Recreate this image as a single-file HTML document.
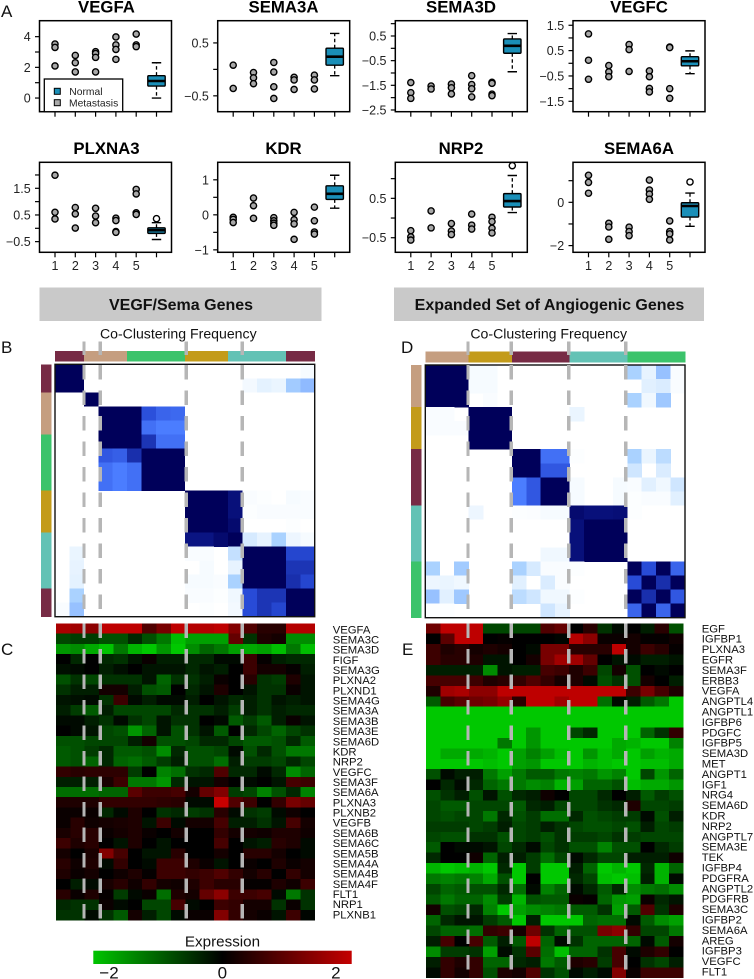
<!DOCTYPE html>
<html lang="en">
<head>
<meta charset="utf-8">
<title>VEGF/Sema gene expression and co-clustering figure</title>
<style>
html,body{margin:0;padding:0;background:#fff;}
svg{display:block;font-family:"Liberation Sans",Arial,sans-serif;}
.ptitle{font-size:16.8px;font-weight:bold;text-anchor:middle;fill:#000;}
.letter{font-size:17px;fill:#111;}
.hdr{font-size:16px;font-weight:bold;text-anchor:middle;fill:#111;}
.cc{font-size:14.1px;text-anchor:middle;fill:#111;}
.tick{font-size:12.5px;fill:#222;}
.gene{font-size:11.3px;fill:#111;}
</style>
</head>
<body>
<svg id="fig" width="754" height="979" viewBox="0 0 754 979" xmlns="http://www.w3.org/2000/svg">
  <rect x="0" y="0" width="754" height="979" fill="#fff"/>
  <text class="letter" x="1" y="17">A</text>
  <text class="letter" x="1" y="353">B</text>
  <text class="letter" x="1" y="655">C</text>
  <text class="letter" x="401" y="353">D</text>
  <text class="letter" x="402" y="655">E</text>

  <text class="ptitle" x="106.5" y="12.5">VEGFA</text>
  <text class="ptitle" x="283.5" y="12.5">SEMA3A</text>
  <text class="ptitle" x="461" y="12.5">SEMA3D</text>
  <text class="ptitle" x="639" y="12.5">VEGFC</text>
  <text class="ptitle" x="106.5" y="154">PLXNA3</text>
  <text class="ptitle" x="283.5" y="154">KDR</text>
  <text class="ptitle" x="461" y="154">NRP2</text>
  <text class="ptitle" x="639" y="154">SEMA6A</text>

  <g id="boxplots"></g>

  <g>
    <rect x="44.3" y="79" width="78.4" height="32.7" fill="#fff" stroke="#000" stroke-width="1.3"/>
    <rect x="54.3" y="88.3" width="6" height="6" fill="#1a8fb8" stroke="#000" stroke-width="1"/>
    <text x="69.3" y="94.8" font-size="10.3" fill="#222">Normal</text>
    <rect x="54.3" y="99.7" width="6" height="6" fill="#aaa" stroke="#000" stroke-width="1"/>
    <text x="69" y="106.3" font-size="10.3" fill="#222">Metastasis</text>
  </g>

  <rect x="39.5" y="287.5" width="282" height="33.5" fill="#c9c9c9"/>
  <text class="hdr" x="181" y="310">VEGF/Sema Genes</text>
  <rect x="394" y="287.5" width="310" height="33.5" fill="#c9c9c9"/>
  <text class="hdr" x="549.5" y="310">Expanded Set of Angiogenic Genes</text>

  <text class="cc" x="178.3" y="338.5">Co-Clustering Frequency</text>
  <text class="cc" x="548.7" y="338.5">Co-Clustering Frequency</text>

  <g id="matrixB"></g>
  <g id="matrixD"></g>
  <g id="heatC"></g>
  <g id="heatE"></g>
  <g id="dashes"></g>

  <defs>
    <linearGradient id="exprGrad" x1="0" x2="1" y1="0" y2="0">
      <stop offset="0" stop-color="#00c400"/>
      <stop offset="0.5" stop-color="#000"/>
      <stop offset="1" stop-color="#c40000"/>
    </linearGradient>
  </defs>
  <text x="222.5" y="946.7" font-size="15.2" text-anchor="middle" fill="#111">Expression</text>
  <rect x="93.3" y="950.7" width="258.4" height="13.3" fill="url(#exprGrad)"/>
  <g id="cbarTicks"></g>
</svg>

<script>
// ---------- Box plot data ----------
const panelNames = ["VEGFA","SEMA3A","SEMA3D","VEGFC","PLXNA3","KDR","NRP2","SEMA6A"];
const categoryLabels = ["1","2","3","4","5",""];
const yDomains = [[-0.89,5.04],[-0.8,0.92],[-2.57,1.12],[-1.91,1.68],[-0.9,2.475],[-1.07,1.5],[-0.87,1.415],[-2.31,1.85]];
const yTicks = [
  [0,1,2,3,4],[-0.5,0,0.5],[-2.5,-2,-1.5,-1,-0.5,0,0.5,1],[-1.5,-1,-0.5,0,0.5,1,1.5],
  [-0.5,0,0.5,1,1.5,2],[-1,-0.5,0,0.5,1],[-0.5,0,0.5,1],[-2,-1,0,1]
];
const yTickLabels = [
  [0,2,4],[-0.5,0.5],[-2.5,-1.5,-0.5,0.5],[-1.5,-0.5,0.5,1.5],
  [-0.5,0.5,1.5],[-1,0,1],[-0.5,0.5],[-2,0]
];
const vegfaPoints = [[3.52,3.3,2.09],[2.78,2.3,1.7],[3.02,2.9,2.65,1.7],[3.98,3.46,3.17,2.52],[4.17,3.46,3.35]];
const sema3aPoints = [[0.08,-0.36],[-0.06,-0.16,-0.27],[0.13,-0.05,-0.33,-0.55],[-0.15,-0.2,-0.38],[-0.11,-0.2,-0.37]];
const sema3dPoints = [[-1.39,-1.8,-2.03],[-1.53,-1.65],[-1.45,-1.6,-1.85],[-1.11,-1.47,-1.64,-1.97],[-1.38,-1.42,-1.86,-1.92]];
const vegfcPoints = [[1.16,0.12,-0.63],[-0.09,-0.34,-0.53],[0.74,0.54,-0.32],[-0.3,-0.53,-0.99,-1.13],[0.64,0.62,-1,-1.38]];
const plxna3Points = [[1.99,0.6,0.35],[0.78,0.54,0.01],[0.75,0.46,0.21],[0.38,0.29,-0.12,-0.15],[1.46,1.29,0.58,0.52]];
const kdrPoints = [[-0.07,-0.13,-0.22],[0.48,0.26,-0.1],[-0.08,-0.17,-0.24,-0.3],[0.07,-0.14,-0.26,-0.7],[0.22,-0.17,-0.49,-0.55]];
const nrp2Points = [[-0.32,-0.48,-0.56],[0.18,-0.25],[-0.14,-0.33,-0.42],[0.1,-0.18,-0.28],[0.02,-0.09,-0.26,-0.38]];
const sema6aPoints = [[1.25,0.92,0.42],[-0.97,-1.14,-1.71],[-1.15,-1.35,-1.54],[1.03,0.57,0.38,0.14],[-0.86,-1.35,-1.46,-1.74]];
const allPoints = [vegfaPoints,sema3aPoints,sema3dPoints,vegfcPoints,plxna3Points,kdrPoints,nrp2Points,sema6aPoints];
// low whisker, box bottom, median, box top, high whisker
const normalBoxes = [
  [0,0.78,1.11,1.46,2.3],[-0.12,0.08,0.24,0.4,0.68],[-0.95,-0.2,0.1,0.38,0.6],[-0.41,-0.1,0.08,0.26,0.49],
  [-0.42,-0.19,-0.07,0.02,0.21],[0.19,0.44,0.6,0.83,1.13],[0.14,0.28,0.43,0.62,1.08],[-1.11,-0.68,-0.17,-0.02,0.43]
];
const normalOutliers = [[],[],[],[],[0.36],[],[1.33],[0.94]];

// ---------- Co-clustering data ----------
const clusterB = ["maroon","maroon","tan","tan","tan","green","green","green","green","gold","gold","gold","teal","teal","teal","teal","maroon","maroon"];
const clusterD = ["tan","tan","tan","gold","gold","gold","maroon","maroon","maroon","maroon","teal","teal","teal","teal","green","green","green","green"];
const matrixB = [
[1,1,0,0,0,0,0,0,0,0,0,0,0,0,0,0,0,.03],
[1,1,0,0,0,0,0,0,0,0,0,0,0,.04,.09,.07,.27,.32],
[0,0,1,0,0,0,0,0,0,0,0,0,0,0,0,0,0,0],
[0,0,0,1,1,1,.68,.6,.58,0,0,0,0,0,0,0,0,0],
[0,0,0,1,1,1,.55,.5,.5,0,0,0,0,0,0,0,0,0],
[0,0,0,1,1,1,.78,.55,.55,0,0,0,0,0,0,0,0,0],
[0,0,0,.65,.62,.8,1,1,1,0,0,0,0,0,0,0,0,0],
[0,0,0,.55,.5,.55,1,1,1,0,0,0,0,0,0,0,0,0],
[0,0,0,.55,.5,.55,1,1,1,0,0,0,0,0,0,0,0,0],
[0,0,0,0,0,0,0,0,0,1,1,1,.92,.02,.01,0,.03,.02],
[0,0,0,0,0,0,0,0,0,1,1,1,.92,.01,.02,.02,.02,.02],
[0,0,0,0,0,0,0,0,0,1,1,1,.95,0,0,0,.01,0],
[0,0,0,0,0,0,0,0,0,.9,.9,.95,1,.13,.08,.25,.06,.03],
[0,.07,0,0,0,0,0,0,0,.02,.02,0,.18,1,1,1,.72,.72],
[0,.08,0,0,0,0,0,0,0,0,.03,0,.08,1,1,1,.78,.78],
[0,.09,0,0,0,0,0,0,0,.03,.03,.02,.25,1,1,1,.8,.72],
[0,.25,0,0,0,0,0,0,0,.02,.02,.01,.05,.7,.78,.78,1,1],
[.02,.3,0,0,0,0,0,0,0,0,.01,0,.04,.7,.78,.72,1,1]
];
const matrixD = [
[1,1,1,.03,.03,0,0,0,0,0,0,0,0,0,.25,.08,.3,.02],
[1,1,1,.03,.03,0,0,0,0,0,0,0,0,0,0,.1,.12,.02],
[1,1,1,0,.02,0,0,0,0,0,0,0,0,0,.25,.05,.28,0],
[.02,.02,0,1,1,1,0,0,0,0,.07,0,0,0,0,0,0,0],
[.02,.02,.02,1,1,1,0,0,0,0,0,0,0,0,0,0,0,0],
[0,0,0,1,1,1,0,0,0,0,0,0,0,0,0,0,0,0],
[0,0,0,0,0,0,1,1,.55,.55,.01,0,0,0,.25,.07,.2,0],
[0,0,0,0,0,0,1,1,.65,.65,0,0,0,0,.15,0,.12,0],
[0,0,0,0,0,0,.5,.65,1,1,.03,0,0,.03,.02,.1,.05,.15],
[0,0,0,0,0,0,.5,.65,1,1,.03,0,0,.03,.01,.02,.02,.1],
[0,0,0,.06,0,0,.01,.015,.03,.03,.95,.92,.92,.93,.01,0,0,0],
[0,0,0,0,0,0,0,0,0,0,.92,1,1,1,0,0,0,0],
[0,0,0,0,0,0,0,0,0,0,.92,1,1,1,0,0,0,0],
[0,0,0,0,0,0,0,0,.05,.05,.92,1,1,1,0,0,0,0],
[.25,0,.27,0,0,0,.25,.13,.02,.02,.01,0,0,0,1,.7,1,.6],
[.06,.07,.05,0,0,0,.1,0,.12,.02,0,0,0,0,.7,1,.8,1],
[.3,.1,.28,0,0,0,.2,.15,.05,.05,.01,0,0,0,1,.8,1,.65],
[.01,.01,0,0,0,0,0,0,.15,.08,0,0,0,0,.6,1,.6,1]
];

// ---------- Expression heatmap data ----------
const genesC = ["VEGFA","SEMA3C","SEMA3D","FIGF","SEMA3G","PLXNA2","PLXND1","SEMA4G","SEMA3A","SEMA3B","SEMA3E","SEMA6D","KDR","NRP2","VEGFC","SEMA3F","SEMA6A","PLXNA3","PLXNB2","VEGFB","SEMA6B","SEMA6C","SEMA5B","SEMA4A","SEMA4B","SEMA4F","FLT1","NRP1","PLXNB1"];
const exprC = [
[1.7,1.6,1.4,1.9,1.9,1.9,.8,1.2,1.9,1.8,1.8,1.9,1.3,.8,.4,.4,1.8,1.8],
[-.7,-.6,-.6,-.8,-.8,-.4,-.8,-1.2,-1.9,-1.6,-1.6,-1.6,1,-.5,.3,.2,-1.4,-1.4],
[-1.5,-1.4,-1.7,-1.95,-1.2,-1.8,-2,-1.5,-2,-1.4,-1,-1.2,-1.6,-1.7,-1.6,-1.9,-1.2,-1.9],
[0,-.4,0,-.4,-.5,-.2,.1,-.3,-.3,-.4,-.4,-.1,-.1,.6,.05,-.3,-.4,-.4],
[-.15,-.1,0,-.3,-.15,0,-.2,-.2,-.2,-.4,-.2,-.3,0,.6,.2,.2,.05,-.3],
[-.8,-.5,-.7,-.5,-.5,-.5,-.2,-1,-.5,-.5,-.3,.1,0,.4,-.5,-.6,.3,-.2],
[-.5,-.3,-.3,.2,.2,-.3,-.8,-.9,0,-.4,-.2,.3,0,-.2,-.5,-.5,.1,-.2],
[-.2,-.15,-.1,-.5,.6,-.1,-.3,-.1,-.1,-.3,0,-.2,-.4,-.3,-.5,-.2,-.3,-.2],
[-.3,-.6,-.9,-.3,-.7,-.7,-.7,-.7,-.4,-.5,-.5,-.3,-.6,-.3,-.5,-.3,-.4,-.4],
[-.1,-.1,-.3,-.5,-.1,-.5,-.7,-.2,-.5,-.5,0,-.1,-.9,-.6,-.9,-.3,.1,-.2],
[0,-.1,-.2,-.7,-.8,-1.5,-1,-.2,-.8,-.5,-.2,-.9,0,-.4,-.7,-1,-.7,-.5],
[-.8,-.8,-.7,-.7,-.7,-.3,.2,-.8,-.8,-.7,-.4,-.4,-.7,-.9,-.9,-.8,-.4,-.9],
[-.9,-.8,-.6,-.4,-.9,-.9,-.8,-1.4,-.4,-.8,-.8,-.7,-.1,-.8,-.4,-.8,-1.2,-1.2],
[-.9,-.8,-1,-.4,-1,-1.1,-.9,-.6,-.3,-.8,-.8,-1.1,-.3,-.6,-.6,-.7,-.4,-.7],
[.5,.4,.45,.45,.45,-.6,0,-1.3,-1.1,-.5,-.4,.8,-.4,-.4,-.1,-.4,-1.4,-1],
[-.3,-.3,-.3,.25,.6,-1.2,-1.2,-1.5,-.4,-.2,-.2,.2,0,-.1,0,-.2,.7,.6],
[-1.1,-1.1,-1.1,-1,-1,.9,.6,.6,.7,.2,1,1.3,-.6,-.7,-1.3,-.8,-.4,-1.3],
[.3,.3,.3,.5,.5,.5,.5,.45,.4,-.1,-.1,2,.8,.6,0,.5,1.2,1],
[.1,.1,.1,-.4,-.1,.3,0,-.5,-.4,-.6,-.5,.4,-.1,-.5,-.6,-.1,.15,0],
[.1,.4,.15,.2,.25,.3,-.2,.6,-.1,.2,.2,.7,-.3,-.3,-.5,-.2,.7,.2],
[.25,.4,.4,.1,.2,.3,.1,0,.2,0,0,.5,.2,.2,.15,.3,.3,.15],
[.6,.3,.4,0,-.2,.3,0,-.2,0,0,0,.7,0,-.2,-.3,.4,.3,-.1],
[.2,0,.25,1.3,.7,0,-.2,-.2,.4,0,0,.2,0,.4,.4,.2,0,-.1],
[.4,.15,.3,-.1,.5,0,-.1,.6,.6,.3,.1,-.2,0,.1,0,.3,.1,.2],
[.3,.1,.2,0,.15,.3,.05,.6,.6,.5,.6,.8,.5,.2,.4,0,.5,.2],
[0,-.3,-.1,.25,.4,.15,.5,.2,.15,.3,.6,.4,.4,.05,.05,.3,.15,.6],
[.4,.1,.3,.05,-.6,-.1,.1,-1.1,.3,.2,1,1.4,.6,.6,.7,-.1,-1.2,-.5],
[-.4,-.5,-.5,.1,-.1,0,-.7,-.7,.7,-.1,0,.6,.5,.2,.2,-.5,.1,-.5],
[-.5,-.5,-.1,-.5,-.9,.2,-.3,-.7,-.1,.1,.1,1.3,.5,.2,.1,-.2,.6,-.05]
];
const genesE = ["EGF","IGFBP1","PLXNA3","EGFR","SEMA3F","ERBB3","VEGFA","ANGPTL4","ANGPTL1","IGFBP6","PDGFC","IGFBP5","SEMA3D","MET","ANGPT1","IGF1","NRG4","SEMA6D","KDR","NRP2","ANGPTL7","SEMA3E","TEK","IGFBP4","PDGFRA","ANGPTL2","PDGFRB","SEMA3C","IGFBP2","SEMA6A","AREG","IGFBP3","VEGFC","FLT1"];
const exprE = [
[1.1,1.9,1.9,1.9,-.7,-.7,-.7,-.7,.8,1,0,.4,-.5,-.1,0,-.3,.4,-.8],
[0,.9,1.9,1.9,0,.05,0,0,0,-.05,1.8,1.4,.1,.1,.2,.05,.05,.15],
[.6,.3,.4,.2,.3,.2,0,-.1,1.2,1.2,.4,.4,.4,1.9,.2,.6,.4,.05],
[.6,.4,.4,.3,-.2,-.2,0,.2,1.2,1.6,1.6,1,0,-.2,-.1,-.3,-.3,-.2],
[-.3,-.3,-.3,-.3,-1.4,-.2,-.3,-.3,.7,.6,.3,.6,-.7,.2,-.8,0,-.1,0],
[.7,.7,.7,.6,.3,.4,.5,.8,.5,.2,.3,-.1,-.8,-.5,-.8,.2,0,-.3],
[.3,1.6,1.7,1.4,1.4,1.9,1.9,1.9,1.9,1.9,1.9,1.9,1.9,1.9,.6,1.2,.7,.3],
[-.9,.7,.9,1.1,1.2,1.5,.4,1.9,1.9,1.6,1.9,1.9,-1.1,-.1,-.3,-.9,-1.2,-2],
[-2,-2,-2,-2,-2,-2,-2,-2,-2,-2,-2,-2,-2,-2,-2,-2,-2,-2],
[-2,-2,-2,-2,-2,-2,-2,-2,-2,-2,-2,-2,-2,-2,-2,-2,-2,-2],
[-2,-2,-2,-2,-2,-2,-2,-1.5,-2,-2,-.7,-.4,-2,-2,-2,-1,-.5,.5],
[-2,-2,-2,-2,-2,-1.2,-2,-1.5,-2,-2,-2,-2,-2,-1.7,-1.8,-2,-2,-1.3],
[-2,-1.7,-1.7,-1.7,-1.8,-2,-1.6,-1.3,-1.6,-1.9,-2,-1.5,-1.9,-1.7,-2,-1.6,-1.8,-1.7],
[-2,-2,-2,-2,-1.9,-2,-1.6,-1.5,-2,-2,-2,-1.8,-1.9,-2,-2,-1.9,-1.9,-1.7],
[-.8,-.1,-.3,-.3,-1.2,-1.6,-1.2,-.9,-.9,-1.2,-1.3,-1.2,-1.5,-1.3,-2,-.7,-1.5,-1],
[0,-.4,-.1,-.4,-1,-1.2,-1.2,-1.4,-1.3,-1.8,-1.6,-1,-1,-.8,-1.9,-1.7,-1.7,-1.5],
[-.8,-.5,-.3,-.8,-.2,-.8,-.4,-.3,.15,0,-.7,-.7,-.4,0,-.3,-.9,-.6,-.8],
[-.7,-.9,-.9,-.7,-.7,-.7,-.9,-.4,-.3,-.7,-.7,-.7,-.5,-.4,.3,-.7,-.7,-.6],
[-.7,-.8,-.7,-.7,-1.2,-.4,-.8,-.6,-1.1,-1.1,-.4,-.8,-.7,-.6,-.6,-.1,-.8,-.3],
[-.6,-.6,-.6,-.7,-.6,-.3,-.7,-.6,-.3,-.5,-.7,-.8,-.8,-.7,-.8,-.3,-.7,-.6],
[-.7,-.8,-.8,-.5,-.5,-.8,-.7,-.6,-.8,-.5,-.6,-.6,-.7,-.5,-.6,-.7,-.7,-.7],
[-.9,0,-.1,-.1,-.2,-.7,-.4,-.1,-.7,-.5,-.8,-.8,-1.3,-.8,-.8,0,-.4,-.6],
[-.4,0,0,.15,-1,-.3,-.3,-.6,-1.1,-.7,-.1,-.4,-.7,-.7,-.3,-.3,-.3,.15],
[-1.8,-2,-1.9,-1.8,-2,-.4,-2,-.6,-2,-2,-.3,-1,-2,-1.8,-2,-.4,-1.8,-1],
[-1.2,-1.3,-1.2,-1.3,-1.7,-.8,-2,0,-2,-2,-.4,-.7,-1.9,-2,-1.9,-.3,-1.8,-.1],
[-.7,-1,-.9,-.8,-.8,-.4,-1.1,-.1,-1.3,-1,-.1,-.4,-.9,-.4,-1.4,-1.2,-1.1,-1.4],
[-.9,-1.2,-1,-1,-1.4,-.6,-1.8,-.8,-.9,-.9,.1,.05,-1,-1.5,-1.6,.1,-.4,-.2],
[.2,-.8,-.7,-.4,-1.3,-2,-1.6,-1.4,-1.3,-1.2,-.9,-.9,-.5,-1.6,-.9,.8,-.5,.3],
[-1,-.4,-.2,-.2,-.6,-.9,-2,-.3,-2,-2,-2,-1,-1.1,-1.1,-.1,-.9,-1.4,-1.6],
[-.7,-1,-1,-1.1,.5,.6,.2,1.1,-.5,-1,-.8,-.8,1.2,1.4,.5,-.7,-.7,-1.2],
[-.3,.7,0,.7,-.9,-.3,-.9,1.9,-1,-.1,-.5,-1,-1,-1,-1,-.1,-.9,.2],
[-1.4,-.6,-.6,-.5,-1.6,-.1,-.5,.9,-1.1,-1.9,-1,-1,-.5,.7,-.1,.3,.5,0],
[-.3,.5,.3,.5,-1,-1,-.4,-.3,-1.2,-.9,.3,.4,-.6,.7,0,-.5,-.7,-.3],
[-.1,.5,.2,.5,-.8,.3,.2,.8,-.5,-.8,-.1,-.3,-.1,1.3,.1,.6,.6,.6]
];
const colorbarTicks = [-2,0,2];

// ---------- Drawing ----------
const NS = "http://www.w3.org/2000/svg";
function make(tag, attrs, parent) {
  const el = document.createElementNS(NS, tag);
  for (const k in attrs) el.setAttribute(k, attrs[k]);
  parent.appendChild(el);
  return el;
}
function fmt(v) { return String(v).replace("-", "\u2212"); }

// layout of the plot frames
const frameLefts = [39.5, 217.7, 395.3, 573];
const frameWidth = 132;
const frameTops = [20.7, 162.3];
const frameHeights = [91, 90];
const NORMAL_FILL = "#1a8fb8";

function xScale(left, catIndex) { return left + 15.5 + catIndex * 20.3; }
function yScale(domain, top, height, v) {
  return top + height - (v - domain[0]) / (domain[1] - domain[0]) * height;
}

const boxRoot = document.getElementById("boxplots");
panelNames.forEach(function (name, p) {
  const col = p % 4, row = Math.floor(p / 4);
  const left = frameLefts[col], top = frameTops[row], h = frameHeights[row];
  const domain = yDomains[p];
  const y = function (v) { return yScale(domain, top, h, v); };
  const x = function (c) { return xScale(left, c); };
  const g = make("g", {}, boxRoot);
  
  

  yTicks[p].forEach(function (t) {
    const tk = make("line", {x1: left - 4.5, x2: left, y1: y(t), y2: y(t), stroke: "#000", "stroke-width": 1.2}, g);
    
    
  });
  yTickLabels[p].forEach(function (t) {
    const lab = make("text", {class: "tick", x: left - 8.8, y: y(t) + 4.5, "text-anchor": "end"}, g);
    lab.textContent = fmt(t);
    
    
  });
  categoryLabels.forEach(function (c, i) {
    const tk = make("line", {x1: x(i), x2: x(i), y1: top + h, y2: top + h + 5, stroke: "#000", "stroke-width": 1.2}, g);
    
    
    if (row === 1 && c) {
      const lab = make("text", {class: "tick", x: x(i), y: 270, "text-anchor": "middle"}, g);
      lab.textContent = c;
      
      
    }
  });

  allPoints[p].forEach(function (vals, c) {
    vals.forEach(function (v) {
      const pt = make("circle", {cx: x(c), cy: y(v), r: 3.1, fill: "#a8a8a8", stroke: "#000", "stroke-width": 1.4}, g);
      
      
    });
  });

  const b = normalBoxes[p], bx = x(5), bw = 17.4;
  const wh = make("path", {d: "M" + bx + " " + y(b[3]) + "V" + y(b[4]) + "M" + bx + " " + y(b[1]) + "V" + y(b[0]), fill: "none", stroke: "#000", "stroke-width": 1.3, "stroke-dasharray": "3.5 2.5"}, g);
  
  
  const caps = make("path", {d: "M" + (bx - 4.7) + " " + y(b[4]) + "H" + (bx + 4.7) + "M" + (bx - 4.7) + " " + y(b[0]) + "H" + (bx + 4.7), fill: "none", stroke: "#000", "stroke-width": 1.4}, g);
  
  
  const rect = make("rect", {x: bx - bw / 2, y: y(b[3]), width: bw, height: y(b[1]) - y(b[3]), fill: NORMAL_FILL, stroke: "#000", "stroke-width": 1.4, rx: 1}, g);
  
  
  const med = make("line", {x1: bx - bw / 2, x2: bx + bw / 2, y1: y(b[2]), y2: y(b[2]), stroke: "#000", "stroke-width": 2.6}, g);
  
  
  normalOutliers[p].forEach(function (v) {
    const o = make("circle", {cx: bx, cy: y(v), r: 3.1, fill: "#fff", stroke: "#000", "stroke-width": 1.4}, g);
    
    
  });

  const fr = make("rect", {x: left, y: top, width: frameWidth, height: h, fill: "none", stroke: "#000", "stroke-width": 1.5}, g);
  
  
});

const clusterColors = {maroon: "#772b45", tan: "#c59e80", green: "#3bc36b", gold: "#c39b1a", teal: "#63c2b5"};
const blueStops = [[0,255,255,255],[.1,225,240,255],[.25,170,210,255],[.5,75,125,255],[.7,40,75,215],[.9,10,20,130],[1,0,0,90]];
function blueColor(v) {
  for (let i = 1; i < blueStops.length; i++) {
    if (v <= blueStops[i][0]) {
      const a = blueStops[i - 1], b = blueStops[i], t = (v - a[0]) / (b[0] - a[0]);
      return "rgb(" + [1, 2, 3].map(function (k) { return Math.round(a[k] + (b[k] - a[k]) * t); }).join(",") + ")";
    }
  }
  return "rgb(0,0,90)";
}
function exprColor(v) {
  const t = Math.min(1, Math.abs(v) / 2) * 200;
  return v >= 0 ? "rgb(" + Math.round(t) + ",0,0)" : "rgb(0," + Math.round(t) + ",0)";
}

function drawMatrix(id, data, clusters, box, barTopY, barLeftX) {
  const g = document.getElementById(id);
  const n = data.length, cw = box.w / n, ch = box.h / n;
  data.forEach(function (row, r) {
    row.forEach(function (v, c) {
      if (v <= 0) return;
      const cell = make("rect", {x: box.x + c * cw, y: box.y + r * ch, width: cw + .3, height: ch + .3, fill: blueColor(v), "shape-rendering": "crispEdges"}, g);
      
      
    });
  });
  clusters.forEach(function (name, i) {
    const top = make("rect", {x: box.x + i * cw, y: barTopY, width: cw + .3, height: 10.7, fill: clusterColors[name], "shape-rendering": "crispEdges"}, g);
    
    
    const side = make("rect", {x: barLeftX, y: box.y + i * ch, width: 10.7, height: ch + .3, fill: clusterColors[name], "shape-rendering": "crispEdges"}, g);
    
    
  });
  const fr = make("rect", {x: box.x, y: box.y, width: box.w, height: box.h, fill: "none", stroke: "#111", "stroke-width": 1.4}, g);
  
  
}
drawMatrix("matrixB", matrixB, clusterB, {x: 55, y: 364.3, w: 259.7, h: 252.4}, 351, 41);
drawMatrix("matrixD", matrixD, clusterD, {x: 425.3, y: 365, w: 259.7, h: 252.7}, 351.7, 411);

function drawHeat(id, data, genes, box, labelX, labelFirstY, labelStep) {
  const g = document.getElementById(id);
  const rows = data.length, cols = data[0].length, cw = box.w / cols, ch = box.h / rows;
  data.forEach(function (row, r) {
    row.forEach(function (v, c) {
      const cell = make("rect", {x: box.x + c * cw, y: box.y + r * ch, width: cw + .3, height: ch + .3, fill: exprColor(v), "shape-rendering": "crispEdges"}, g);
      
      
    });
  });
  genes.forEach(function (name, r) {
    const t = make("text", {class: "gene", x: labelX, y: labelFirstY + r * labelStep + 4}, g);
    t.textContent = name;
    
    
  });
}
drawHeat("heatC", exprC, genesC, {x: 56, y: 623.3, w: 258.7, h: 296.7}, 332.7, 629.3, 10.18);
drawHeat("heatE", exprE, genesE, {x: 426, y: 623.3, w: 257.3, h: 354.4}, 701.7, 628.3, 10.4);

// cluster divider dashes
const dashRoot = document.getElementById("dashes");
function dashColumn(x, y0, y1) {
  const seg = make("line", {x1: x, x2: x, y1: y0, y2: y1, stroke: "#b6b6b6", "stroke-width": 3.4, "stroke-dasharray": "14.5 11", "shape-rendering": "crispEdges"}, dashRoot);
  
  
}
[[84, 100.3, 186.3, 242.3], [468, 511.3, 568.7, 625.7]].forEach(function (xs, side) {
  xs.forEach(function (x) {
    dashColumn(x, 341.5, 355);
    dashColumn(x, 365, 615);
    dashColumn(x, 623.3, side === 0 ? 920 : 977.7);
  });
});

// colorbar tick labels
const cbarG = document.getElementById("cbarTicks");
function cbarX(v) { return 222.4 + v * 56.7; }
colorbarTicks.forEach(function (v) {
  const t = make("text", {x: cbarX(v), y: 978.3, "text-anchor": "middle", "font-size": 17, fill: "#111"}, cbarG);
  t.textContent = fmt(v);
  
  
});
</script>
</body>
</html>
